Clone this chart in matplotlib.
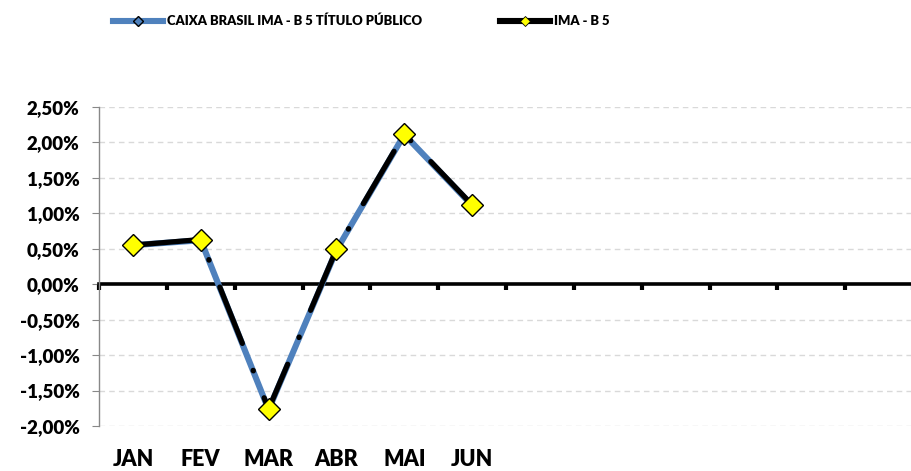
import matplotlib.pyplot as plt
from matplotlib.ticker import FuncFormatter
from matplotlib.lines import Line2D
import numpy as np

plt.rcParams['font.family'] = ['Lato', 'DejaVu Sans']
plt.rcParams['font.weight'] = 'heavy'

# data (in %)
months = ['JAN', 'FEV', 'MAR', 'ABR', 'MAI', 'JUN', '', '', '', '', '', '']
caixa = [0.55, 0.62, -1.77, 0.48, 2.11, 1.11]
ima_b5 = [0.55, 0.63, -1.76, 0.49, 2.12, 1.12]
caixa_name = 'CAIXA BRASIL IMA - B 5 TÍTULO PÚBLICO'
ima_name = 'IMA - B 5'

BLUE = '#4F81BD'

fig = plt.figure(figsize=(9.12, 4.71), dpi=100)
ax = fig.add_axes([0.1086, 0.0955, 0.8925, 0.6775])

x = np.arange(len(caixa))
ax.plot(x, caixa, color=BLUE, lw=4.4, marker='D', ms=5,
        mfc=BLUE, mec='black', mew=1, zorder=3)
ax.plot(x, ima_b5, color='black', lw=3.8, dashes=(11.5, 5.5, 0.1, 5.5),
        dash_capstyle='round', marker='D', ms=11, mfc='#FFFF00',
        mec='black', mew=1, zorder=4)

ax.set_ylim(-2.0, 2.5)
ax.set_xlim(-0.5, len(months) - 0.5)
ax.set_yticks(np.arange(-2.0, 2.51, 0.5))
ax.yaxis.set_major_formatter(FuncFormatter(lambda v, p: ('%.2f%%' % v).replace('.', ',')))

# dashed grid
for v in np.arange(-2.0, 2.51, 0.5):
    if abs(v) > 1e-9:
        ax.axhline(v, color='#D9D9D9', lw=1, dashes=(4, 3), zorder=0)

for s in ['top', 'right']:
    ax.spines[s].set_visible(False)
ax.spines['left'].set_color('#888888')
ax.spines['left'].set_linewidth(1)
ax.spines['bottom'].set_position(('data', 0))
ax.spines['bottom'].set_linewidth(2.6)
ax.spines['bottom'].set_color('black')
ax.spines['bottom'].set_zorder(2)

ax.tick_params(axis='y', direction='out', length=5, color='#888888',
               labelsize=13.5, pad=9)
ax.set_xticks(np.arange(len(months)))
ax.set_xticklabels(months, fontsize=15.5)
ax.tick_params(axis='x', which='major', length=0, pad=119)
ax.set_xticks(np.arange(len(months) + 1) - 0.5, minor=True)
ax.tick_params(axis='x', which='minor', direction='out', length=4,
               width=3, color='black')

# legend
h1 = Line2D([], [], color=BLUE, lw=4.4, marker='D', ms=5, mfc=BLUE,
            mec='black', mew=1)
h2 = Line2D([], [], color='black', lw=4.4, marker='D', ms=5,
            mfc='#FFFF00', mec='black', mew=0.6)
fig.legend([h1, h2], [caixa_name, ima_name], loc='center left',
           bbox_to_anchor=(113 / 912, 1 - 21 / 471), ncol=2, frameon=False,
           prop={'size': 9.4, 'weight': 'heavy'}, handlelength=3.8,
           handletextpad=0.3, columnspacing=6.0, borderpad=0,
           borderaxespad=0)

fig.savefig('out.png', dpi=100)
